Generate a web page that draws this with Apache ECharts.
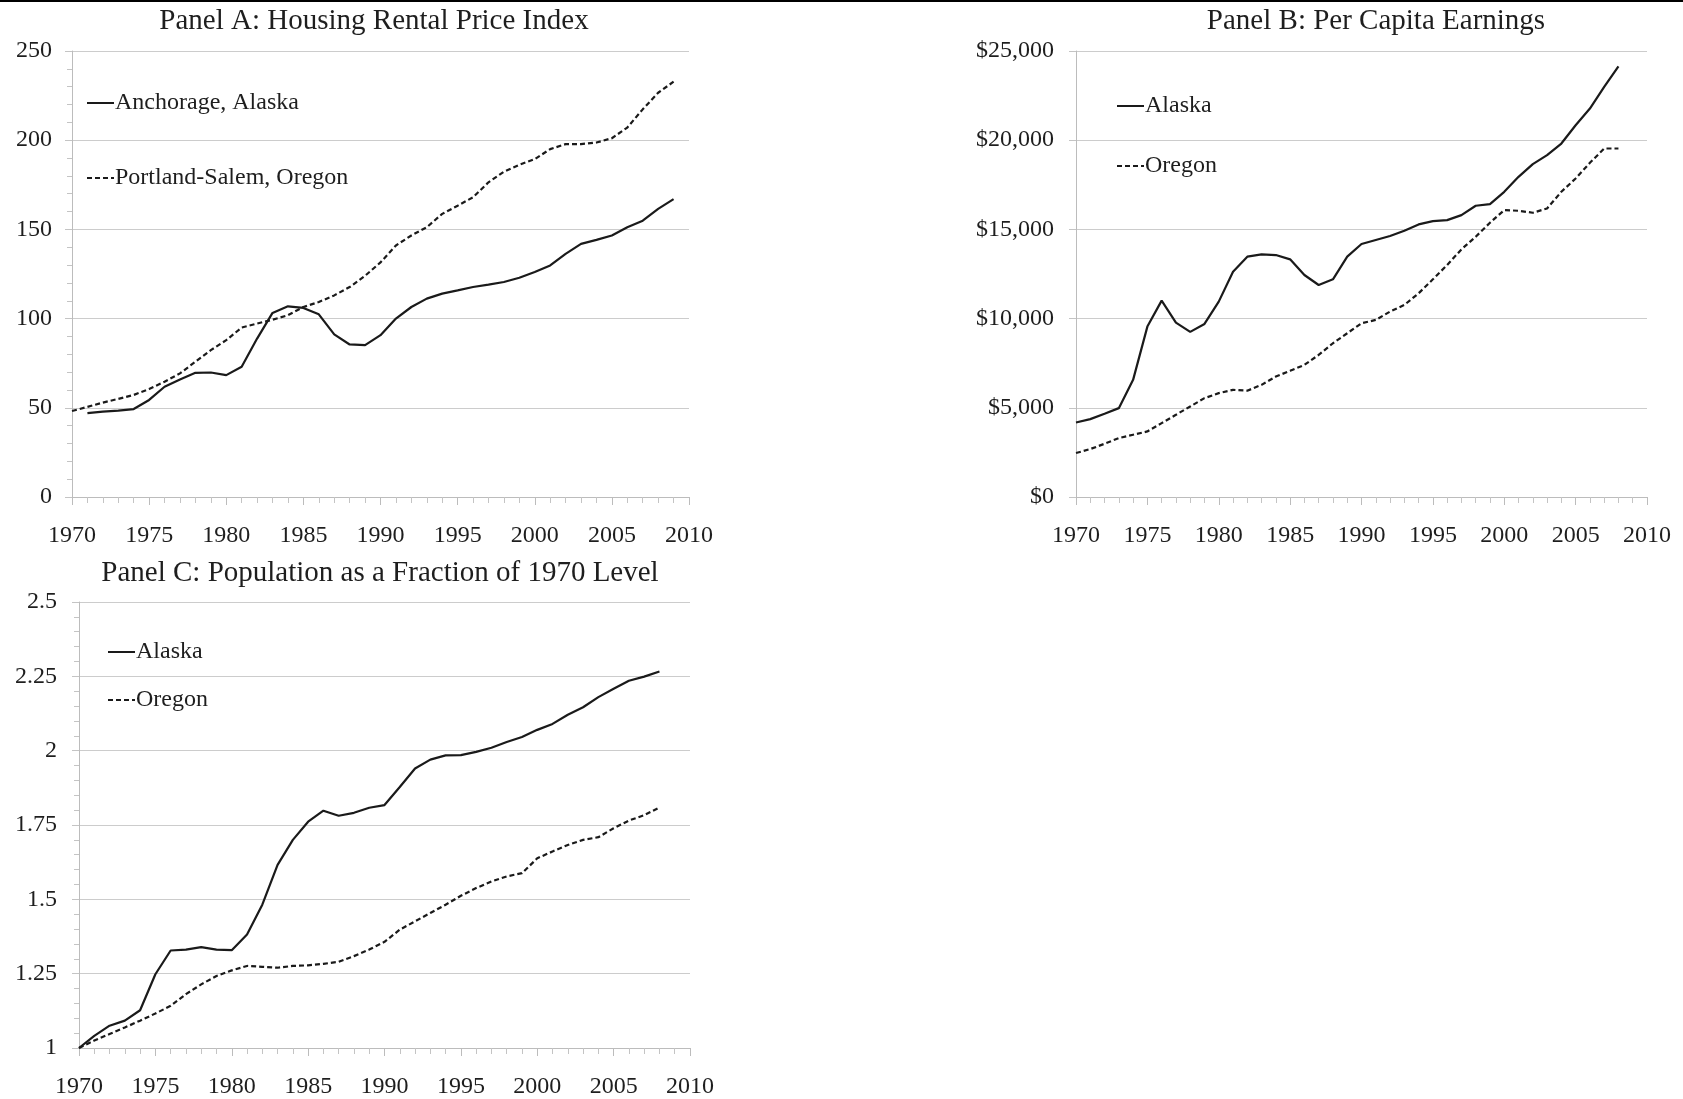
<!DOCTYPE html>
<html>
<head>
<meta charset="utf-8">
<title>Panels A-C</title>
<script src="https://cdn.jsdelivr.net/npm/echarts@6/dist/echarts.min.js"></script>
<style>
  html, body { margin: 0; padding: 0; background: #fff; }
  #main { width: 1683px; height: 1099px; }
</style>
</head>
<body>
<div id="main"></div>
<script>
// years on the x axis
var yearsA = [];      // Anchorage starts in 1971
for (var y = 1971; y <= 2009; y++) yearsA.push(y);
var yearsAPortland = [];
for (var y = 1970; y <= 2009; y++) yearsAPortland.push(y);
var yearsBC = [];
for (var y = 1970; y <= 2008; y++) yearsBC.push(y);

// Panel A: Housing Rental Price Index
var anchorageRent = [47, 47.9, 48.4, 49.3, 54.4, 61.8, 65.9, 69.6, 69.8, 68.3,
  73, 88.8, 103.2, 106.9, 106, 102.4, 91.2, 85.5, 85.1, 90.7,
  100, 106.5, 111.2, 114, 115.8, 117.7, 119, 120.5, 122.9, 126.1,
  129.8, 136.3, 141.9, 144.1, 146.6, 151.2, 154.9, 161.5, 167];
var portlandRent = [48.2, 50.5, 52.9, 55, 57.2, 60.5, 64.6, 69.3, 75.8, 82.3,
  87.9, 95, 97.2, 99.4, 101.9, 106.5, 109.3, 113, 117.7, 124,
  131.5, 141, 146.6, 151.2, 158.7, 163.3, 168, 176.4, 182.3, 186.2,
  189.4, 195, 197.8, 197.8, 198.7, 201.1, 207.1, 217.3, 226.6, 232.8];

// Panel B: Per Capita Earnings
var alaskaEarnings = [4179, 4366, 4664, 4981, 6567, 9552, 11007, 9776, 9254, 9701,
  10951, 12631, 13470, 13601, 13563, 13321, 12444, 11884, 12201, 13470,
  14179, 14403, 14627, 14925, 15280, 15466, 15522, 15802, 16325, 16418,
  17108, 17948, 18657, 19160, 19813, 20840, 21772, 22985, 24142];
var oregonEarnings = [2463, 2687, 2985, 3302, 3489, 3675, 4142, 4608, 5075, 5541,
  5821, 6007, 5960, 6287, 6754, 7071, 7407, 7966, 8619, 9179,
  9739, 9925, 10392, 10765, 11418, 12201, 13004, 13881, 14590, 15373,
  16082, 16045, 15933, 16175, 17108, 17854, 18731, 19534, 19534];

// Panel C: Population as a Fraction of 1970 Level
var alaskaPop = [1.0, 1.041, 1.075, 1.092, 1.127, 1.248, 1.328, 1.331, 1.339, 1.331,
  1.329, 1.382, 1.482, 1.616, 1.7, 1.761, 1.798, 1.781, 1.791, 1.808,
  1.817, 1.878, 1.94, 1.97, 1.984, 1.985, 1.996, 2.01, 2.029, 2.046,
  2.07, 2.09, 2.121, 2.146, 2.18, 2.208, 2.235, 2.249, 2.266];
var oregonPop = [1.0, 1.025, 1.047, 1.069, 1.092, 1.116, 1.142, 1.181, 1.214, 1.242,
  1.261, 1.276, 1.273, 1.27, 1.276, 1.278, 1.283, 1.29, 1.309, 1.331,
  1.357, 1.398, 1.426, 1.454, 1.482, 1.512, 1.538, 1.56, 1.577, 1.588,
  1.638, 1.661, 1.683, 1.7, 1.709, 1.739, 1.765, 1.783, 1.809];

var FONT = 'Liberation Serif';
var TEXT = '#1e1e1e';
var INK = '#1a1a1a';

function pairs(xs, ys) {
  var out = [];
  for (var i = 0; i < ys.length; i++) out.push([xs[i], ys[i]]);
  return out;
}

function xAxisFor(gridIndex) {
  return {
    type: 'value', gridIndex: gridIndex,
    min: 1970, max: 2010, interval: 5,
    axisLine: { show: true, lineStyle: { color: '#bcbcbc', width: 1 } },
    axisTick: { show: true, length: 8, lineStyle: { color: '#bcbcbc' } },
    minorTick: { show: true, splitNumber: 5, length: 6, lineStyle: { color: '#c4c4c4' } },
    splitLine: { show: false },
    axisLabel: {
      margin: 27, color: TEXT, fontFamily: FONT, fontSize: 24,
      formatter: function (v) { return String(v); }
    }
  };
}

function yAxisFor(gridIndex, min, max, interval, minor, formatter, margin) {
  return {
    type: 'value', gridIndex: gridIndex,
    min: min, max: max, interval: interval,
    axisLine: { show: true, lineStyle: { color: '#bcbcbc', width: 1 } },
    axisTick: { show: true, length: 7, lineStyle: { color: '#c4c4c4' } },
    minorTick: { show: minor, splitNumber: 5, length: 5, lineStyle: { color: '#c4c4c4' } },
    splitLine: { show: true, lineStyle: { color: '#cccccc', width: 1.2 } },
    axisLabel: { margin: margin, color: TEXT, fontFamily: FONT, fontSize: 24, formatter: formatter }
  };
}

function lineSeries(name, axisIndex, data, dashed) {
  return {
    name: name, type: 'line',
    xAxisIndex: axisIndex, yAxisIndex: axisIndex,
    data: data, symbol: 'none', silent: true,
    itemStyle: { color: INK },
    lineStyle: { color: INK, width: 2.2, type: dashed ? [5, 3] : 'solid' }
  };
}

// the text sits right against the line sample in the reference
function legendFor(names, left, top, gap) {
  return {
    data: names, orient: 'vertical',
    left: left, top: top, itemGap: gap, padding: 0,
    itemWidth: 27, itemHeight: 14,
    selectedMode: false,
    itemStyle: { opacity: 0 },
    textStyle: { color: TEXT, fontFamily: FONT, fontSize: 24, padding: [0, 0, 0, -4] }
  };
}

var chartDom = document.getElementById('main');
var myChart = echarts.init(chartDom);
var option;

option = {
  backgroundColor: '#fff',
  animation: false,
  title: [
    { text: 'Panel A: Housing Rental Price Index', left: 374, top: 7, textAlign: 'center', padding: 0,
      textStyle: { fontFamily: FONT, fontSize: 29, fontWeight: 'normal', color: TEXT } },
    { text: 'Panel B: Per Capita Earnings', left: 1376, top: 7, textAlign: 'center', padding: 0,
      textStyle: { fontFamily: FONT, fontSize: 29, fontWeight: 'normal', color: TEXT } },
    { text: 'Panel C: Population as a Fraction of 1970 Level', left: 380, top: 559, textAlign: 'center', padding: 0,
      textStyle: { fontFamily: FONT, fontSize: 29, fontWeight: 'normal', color: TEXT } }
  ],
  legend: [
    legendFor(['Anchorage, Alaska', 'Portland-Salem, Oregon'], 86, 91, 51),
    legendFor(['Alaska', 'Oregon'], 1116, 94, 36),
    legendFor(['Alaska', 'Oregon'], 107, 640, 24)
  ],
  graphic: [
    { type: 'rect', left: 0, top: 0, shape: { width: 1683, height: 2 }, style: { fill: '#000' } }
  ],
  grid: [
    { left: 72, right: 994, top: 51, bottom: 602 },
    { left: 1076, right: 36, top: 51, bottom: 602 },
    { left: 79, right: 993, top: 602, bottom: 50 }
  ],
  xAxis: [xAxisFor(0), xAxisFor(1), xAxisFor(2)],
  yAxis: [
    yAxisFor(0, 0, 250, 50, true, null, 20),
    yAxisFor(1, 0, 25000, 5000, false, function (v) {
      return '$' + v.toString().replace(/\B(?=(\d{3})+(?!\d))/g, ',');
    }, 22),
    yAxisFor(2, 1, 2.5, 0.25, true, null, 22)
  ],
  series: [
    lineSeries('Anchorage, Alaska', 0, pairs(yearsA, anchorageRent), false),
    lineSeries('Portland-Salem, Oregon', 0, pairs(yearsAPortland, portlandRent), true),
    lineSeries('Alaska', 1, pairs(yearsBC, alaskaEarnings), false),
    lineSeries('Oregon', 1, pairs(yearsBC, oregonEarnings), true),
    lineSeries('Alaska', 2, pairs(yearsBC, alaskaPop), false),
    lineSeries('Oregon', 2, pairs(yearsBC, oregonPop), true)
  ]
};

option && myChart.setOption(option);
</script>
</body>
</html>
